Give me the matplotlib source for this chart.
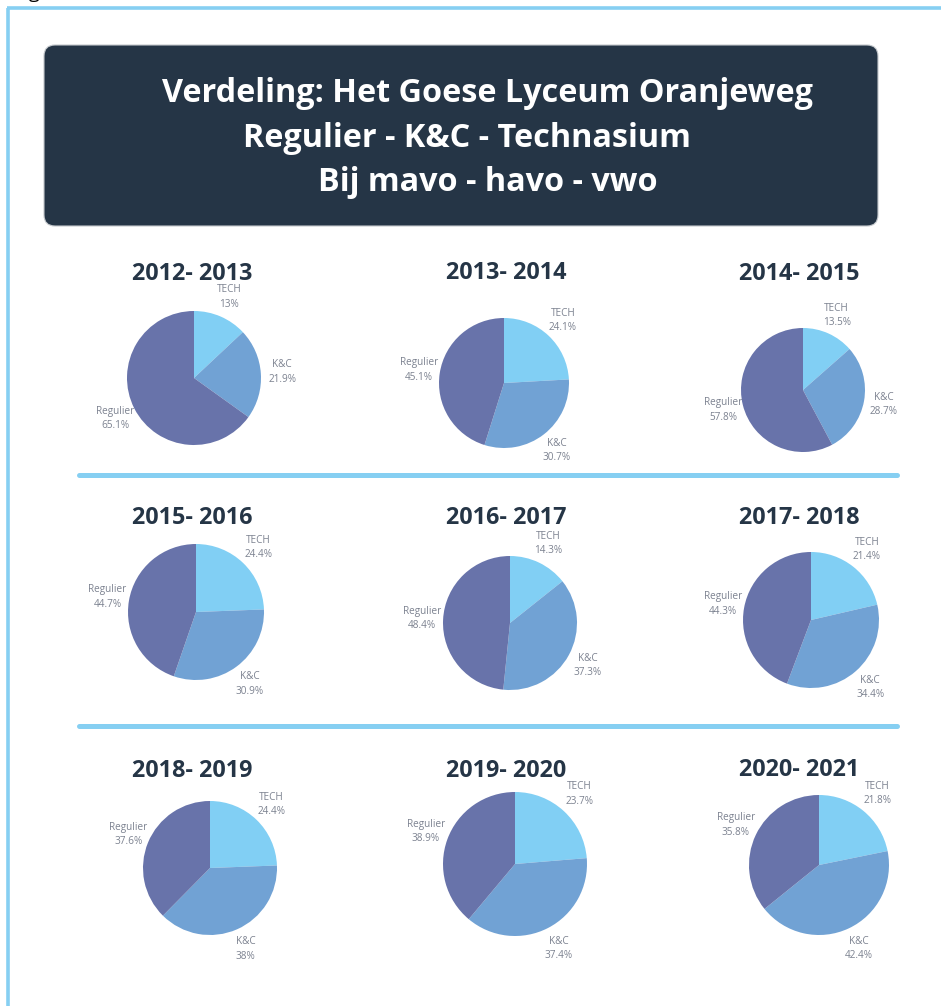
import matplotlib.pyplot as plt
from matplotlib.patches import FancyBboxPatch

# Data: share per stream (TECH, K&C, Regulier) per school year
years = ['2012- 2013', '2013- 2014', '2014- 2015',
         '2015- 2016', '2016- 2017', '2017- 2018',
         '2018- 2019', '2019- 2020', '2020- 2021']
categories = ['TECH', 'K&C', 'Regulier']
tech = [13, 24.1, 13.5, 24.4, 14.3, 21.4, 24.4, 23.7, 21.8]
kc = [21.9, 30.7, 28.7, 30.9, 37.3, 34.4, 38, 37.4, 42.4]
regulier = [65.1, 45.1, 57.8, 44.7, 48.4, 44.3, 37.6, 38.9, 35.8]

title_lines = ['Verdeling: Het Goese Lyceum Oranjeweg',
               'Regulier - K&C - Technasium',
               'Bij mavo - havo - vwo']

colors = ['#81cff4', '#71a2d4', '#6873aa']
navy = '#253546'
light_blue = '#86cff2'

# Layout in pixels: pie centre x, centre y, radius / year title x, baseline y
W, H = 941, 1006
pie_layout = [(194, 378, 67), (504, 383, 65), (803, 390, 62),
              (196, 612, 68), (510, 623, 67), (811, 620, 68),
              (210, 868, 67), (515, 864, 72), (819, 865, 70)]
year_layout = [(192, 280), (506, 279), (799, 280),
               (192, 524), (506, 524), (799, 524),
               (192, 777), (506, 777), (799, 776)]

plt.rcParams['font.family'] = ['Open Sans', 'DejaVu Sans']

fig = plt.figure(figsize=(W / 100, H / 100), dpi=100)

# background axes in pixel coordinates
bg = fig.add_axes([0, 0, 1, 1])
bg.set_xlim(0, W)
bg.set_ylim(H, 0)
bg.axis('off')

# frame lines (left and top)
bg.plot([8.5, 8.5], [8, H], color=light_blue, lw=2.6, solid_capstyle='butt')
bg.plot([7, W], [8.2, 8.2], color=light_blue, lw=2.6, solid_capstyle='butt')
bg.text(34, -2, 'g', fontsize=14, ha='center', va='baseline', color='black')

# title box
box = FancyBboxPatch((44, 45), 834, 181, boxstyle='round,pad=0,rounding_size=11',
                     fc=navy, ec='#c4c8cc', lw=0.8)
bg.add_patch(box)
for (x, y), line in zip([(488, 102), (467, 147), (488, 191)], title_lines):
    bg.text(x, y, line, ha='center', va='baseline', fontsize=23.3,
            fontweight='bold', color='white')

# separators between rows
for y in [474.5, 725.5]:
    bg.plot([79, 897], [y, y], color=light_blue, lw=3.6, solid_capstyle='round')

# pies
for i, year in enumerate(years):
    cx, cy, r = pie_layout[i]
    ax = fig.add_axes([(cx - r) / W, 1 - (cy + r) / H, 2 * r / W, 2 * r / H])
    values = [tech[i], kc[i], regulier[i]]
    labels = [f'{c}\n{v:g}%' for c, v in zip(categories, values)]
    wedges, texts = ax.pie(values, colors=colors, startangle=90, counterclock=False,
                           labels=labels, labeldistance=1.32,
                           wedgeprops={'linewidth': 0},
                           textprops={'fontsize': 7.2, 'color': '#7c8290',
                                      'linespacing': 1.42})
    for t in texts:
        t.set_ha('center')
        t.set_multialignment('center')
    ax.set_xlim(-1, 1)
    ax.set_ylim(-1, 1)

    tx, ty = year_layout[i]
    bg.text(tx, ty, year, ha='center', va='baseline', fontsize=16.8,
            fontweight='bold', color=navy)

fig.savefig('out.png', dpi=100, facecolor='white')
